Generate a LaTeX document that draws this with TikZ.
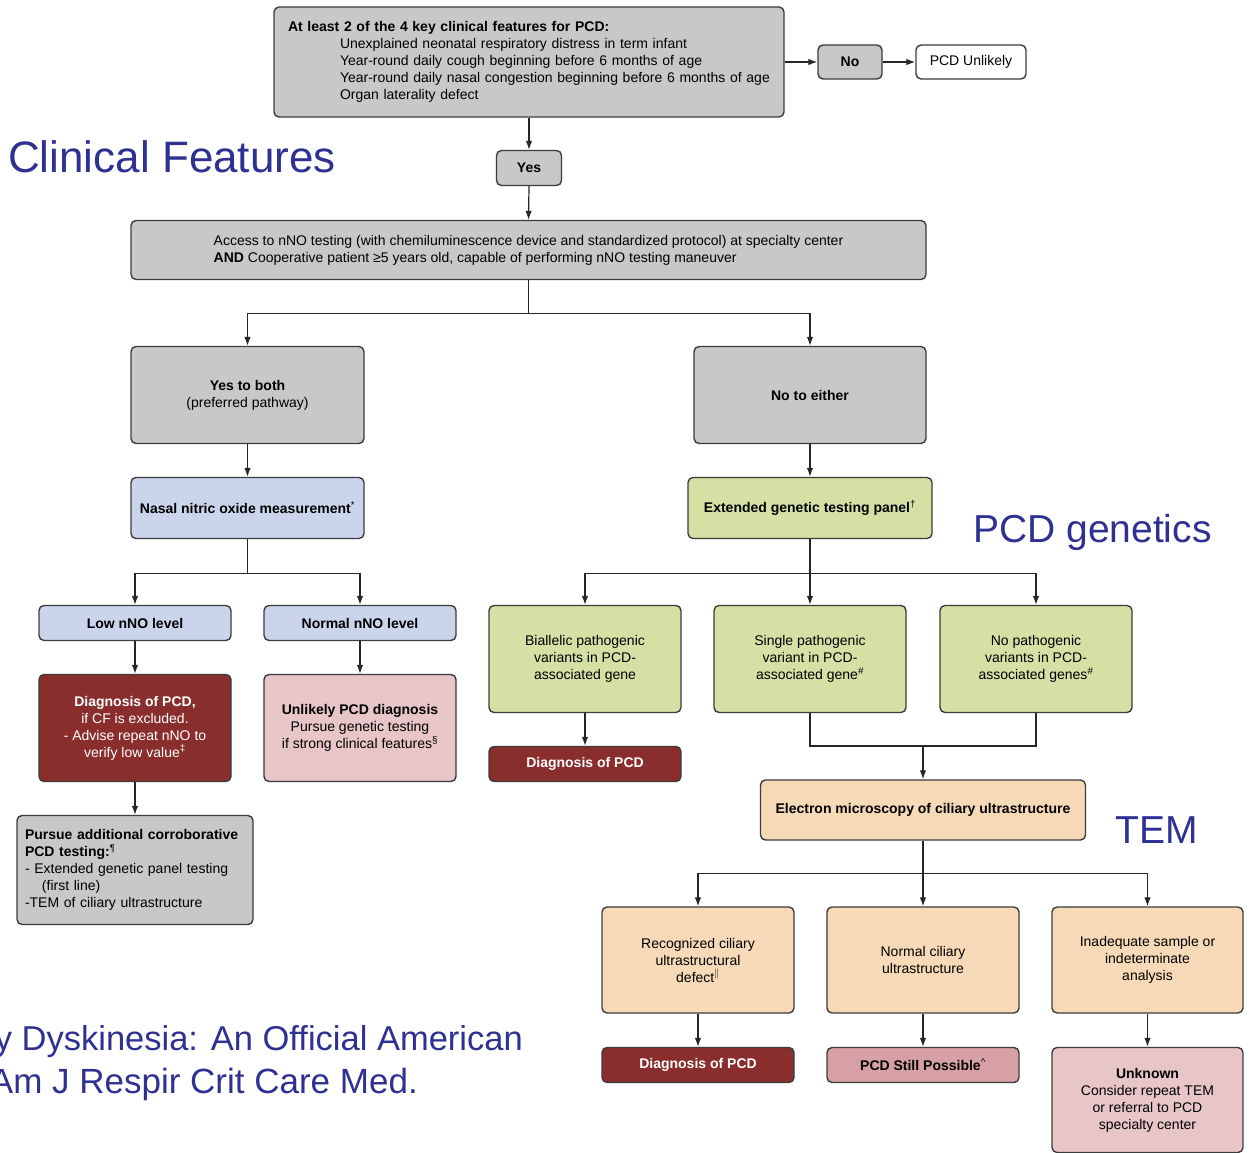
\documentclass[tikz,border=0pt]{standalone}
\usepackage{fontspec}
\setmainfont{Liberation Sans}
\usetikzlibrary{arrows.meta,positioning}
\definecolor{edge}{HTML}{3C3C3C}
\definecolor{grayfill}{HTML}{C8C8C8}
\definecolor{nnoblue}{HTML}{CAD5EC}
\definecolor{genegreen}{HTML}{D5E0A5}
\definecolor{dxred}{HTML}{8A2E2D}
\definecolor{softpink}{HTML}{E8C5C7}
\definecolor{rosepink}{HTML}{D6A0A4}
\definecolor{peach}{HTML}{F6D9B6}
\definecolor{slideblue}{HTML}{2E3192}
\newcommand{\boxfont}{\fontsize{14}{17}\selectfont}
\newcommand{\fn}[1]{\textsuperscript{#1}}

\begin{document}
\begin{tikzpicture}[x=1pt, y=-1pt,
  box/.style={draw=edge, line width=1.4pt, rounded corners=5pt, align=center, font=\boxfont, inner sep=0pt},
  smallbox/.style={box, minimum width=192pt, minimum height=35pt},
  tallbox/.style={box, minimum width=192pt, minimum height=107pt},
  link/.style={draw=black!85, line width=1.2pt},
  arr/.style={link, -{Latex[length=9pt,width=6.5pt]}},
  slide/.style={text=slideblue, inner sep=0pt}
]
  \fill[white] (0,0) rectangle (1251,1153);
  \useasboundingbox (0,0) rectangle (1251,1153);

  % clinical features
  \node[box, fill=grayfill, minimum width=510pt, minimum height=110pt, text width=482pt, align=left] (feat) at (529,62)
    {\textbf{At least 2 of the 4 key clinical features for PCD:}\\
     \hspace*{52pt}Unexplained neonatal respiratory distress in term infant\\
     \hspace*{52pt}Year-round daily cough beginning before 6 months of age\\
     \hspace*{52pt}Year-round daily nasal congestion beginning before 6 months of age\\
     \hspace*{52pt}Organ laterality defect};
  \node[box, fill=grayfill, minimum width=64pt, minimum height=34pt] (no) at (850,62) {\textbf{No}};
  \node[box, fill=white, minimum width=110pt, minimum height=34pt] (unl) at (971,62) {PCD Unlikely};
  \node[box, fill=grayfill, minimum width=65pt, minimum height=35pt] (yes) at (529,168) {\textbf{Yes}};
  \node[box, fill=grayfill, minimum width=795pt, minimum height=59pt, align=left] (access) at (528.5,250)
    {Access to nNO testing (with chemiluminescence device and standardized protocol) at specialty center\\
     \textbf{AND} Cooperative patient ≥5 years old, capable of performing nNO testing maneuver};

  % two pathways
  \node[box, fill=grayfill, minimum width=233pt, minimum height=97pt] (both) at (247.5,395) {\textbf{Yes to both}\\(preferred pathway)};
  \node[box, fill=grayfill, minimum width=232pt, minimum height=97pt] (either) at (810,395) {\textbf{No to either}};
  \node[box, fill=nnoblue, minimum width=233pt, minimum height=61pt] (nasal) at (247.5,508) {\textbf{Nasal nitric oxide measurement}\fn{*}};
  \node[box, fill=genegreen, minimum width=244pt, minimum height=61pt] (ext) at (810,508) {\textbf{Extended genetic testing panel}\fn{†}};

  % nNO branch
  \node[smallbox, fill=nnoblue] (low) at (135,623) {\textbf{Low nNO level}};
  \node[smallbox, fill=nnoblue] (normal) at (360,623) {\textbf{Normal nNO level}};
  \node[tallbox, fill=dxred, text=white] (diag1) at (135,728)
    {\textbf{Diagnosis of PCD,}\\if CF is excluded.\\- Advise repeat nNO to\\verify low value\fn{‡}};
  \node[tallbox, fill=softpink] (unlik) at (360,728)
    {\textbf{Unlikely PCD diagnosis}\\Pursue genetic testing\\if strong clinical features\fn{§}};
  \node[box, fill=grayfill, minimum width=236pt, minimum height=109pt, text width=220pt, align=left] (pursue) at (135,870)
    {\textbf{Pursue additional corroborative}\\
     \textbf{PCD testing:}\fn{¶}\\
     - Extended genetic panel testing\\
     \hspace*{17pt}(first line)\\
     -TEM of ciliary ultrastructure};

  % genetics branch
  \node[tallbox, fill=genegreen] (biall) at (585,659) {Biallelic pathogenic\\variants in PCD-\\associated gene};
  \node[tallbox, fill=genegreen] (single) at (810,659) {Single pathogenic\\variant in PCD-\\associated gene\fn{\#}};
  \node[tallbox, fill=genegreen] (nopath) at (1036,659) {No pathogenic\\variants in PCD-\\associated genes\fn{\#}};
  \node[smallbox, fill=dxred, text=white] (diag2) at (585,764) {\textbf{Diagnosis of PCD}};

  % TEM branch
  \node[box, fill=peach, minimum width=325pt, minimum height=60pt] (em) at (923,810) {\textbf{Electron microscopy of ciliary ultrastructure}};
  \node[tallbox, fill=peach, minimum height=106pt] (recog) at (698,960) {Recognized ciliary\\ultrastructural\\defect\fn{$\|$}};
  \node[tallbox, fill=peach, minimum height=106pt] (normcil) at (923,960) {Normal ciliary\\ultrastructure};
  \node[tallbox, fill=peach, minimum width=191pt, minimum height=106pt] (inadeq) at (1147.5,960) {Inadequate sample or\\indeterminate\\analysis};
  \node[smallbox, fill=dxred, text=white] (diag3) at (698,1065) {\textbf{Diagnosis of PCD}};
  \node[smallbox, fill=rosepink] (still) at (923,1065) {\textbf{PCD Still Possible}\fn{\textasciicircum}};
  \node[box, fill=softpink, minimum width=191pt, minimum height=105pt] (unknown) at (1147.5,1100)
    {\textbf{Unknown}\\Consider repeat TEM\\or referral to PCD\\specialty center};

  % slide labels
  \node[slide, anchor=base west, font=\fontsize{44}{50}\selectfont] (lblclin) at (8,173) {Clinical Features};
  \node[slide, anchor=base west, font=\fontsize{39}{45}\selectfont] (lblgene) at (973,542) {PCD genetics};
  \node[slide, anchor=base west, font=\fontsize{39}{45}\selectfont] (lbltem) at (1115,843) {TEM};
  \node[slide, anchor=base east, font=\fontsize{34.5}{40}\selectfont] (cite1) at (523,1050) {y Dyskinesia: An Official American};
  \node[slide, anchor=base east, font=\fontsize{35}{40}\selectfont] (cite2) at (418,1093) {Am J Respir Crit Care Med.};

  % connectors
  \draw[arr] (feat.east) -- (no.west);
  \draw[arr] (no.east) -- (unl.west);
  \draw[arr] (feat.south) -- (yes.north);
  \draw[arr] (yes.south) -- (access.north);
  \draw[link] (access.south) -- ++(0,33) coordinate (split1);
  \draw[arr] (split1) -| (both.north);
  \draw[arr] (split1) -| (either.north);
  \draw[arr] (both.south) -- (nasal.north);
  \draw[arr] (either.south) -- (ext.north);

  \draw[link] (nasal.south) -- ++(0,34) coordinate (split2);
  \draw[arr] (split2) -| (low.north);
  \draw[arr] (split2) -| (normal.north);
  \draw[arr] (low.south) -- (diag1.north);
  \draw[arr] (normal.south) -- (unlik.north);
  \draw[arr] (diag1.south) -- (pursue.north);

  \draw[link] (ext.south) -- ++(0,34) coordinate (split3);
  \draw[arr] (split3) -| (biall.north);
  \draw[arr] (split3) -- (single.north);
  \draw[arr] (split3) -| (nopath.north);
  \draw[arr] (biall.south) -- (diag2.north);
  \coordinate (merge) at (923,746);
  \draw[link] (single.south) |- (merge);
  \draw[link] (nopath.south) |- (merge);
  \draw[arr] (merge) -- (em.north);

  \draw[link] (em.south) -- ++(0,33) coordinate (split4);
  \draw[arr] (split4) -| (recog.north);
  \draw[arr] (split4) -- (normcil.north);
  \draw[arr] (split4) -| (inadeq.north);
  \draw[arr] (recog.south) -- (diag3.north);
  \draw[arr] (normcil.south) -- (still.north);
  \draw[arr] (inadeq.south) -- (unknown.north);
\end{tikzpicture}
\end{document}
